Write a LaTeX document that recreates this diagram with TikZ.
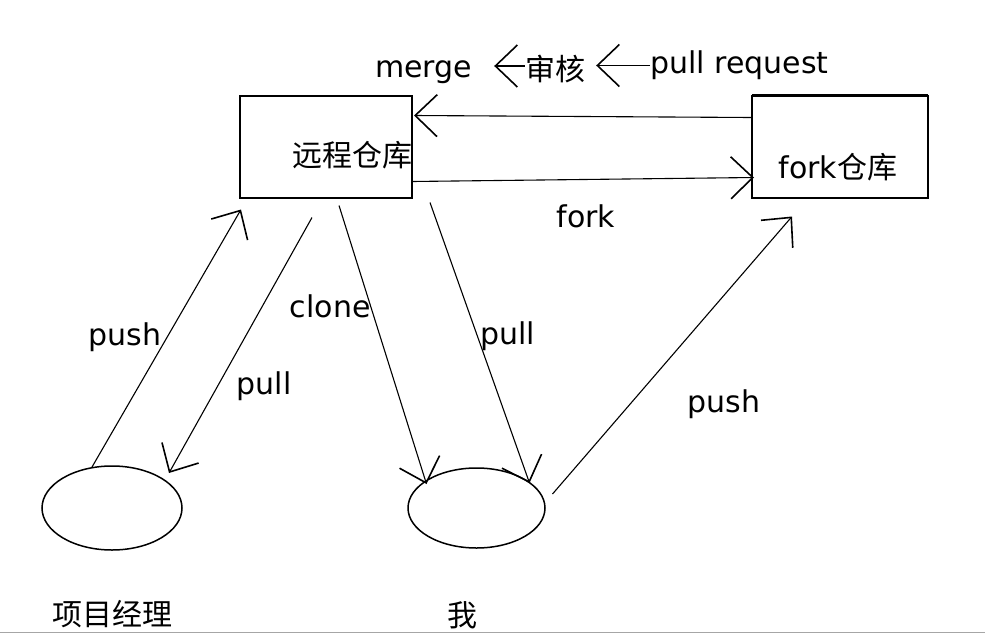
\documentclass[tikz,border=0pt]{standalone}
\usepackage{fontspec}
\setmainfont{DejaVu Sans}
\newfontfamily\cjk{Noto Sans CJK SC}
\usetikzlibrary{positioning, arrows.meta, shapes.geometric}

\begin{document}
\begin{tikzpicture}[x=1pt, y=-1pt,
	font=\fontsize{30}{36}\selectfont,
	repo/.style={draw, line width=2pt, outer sep=0pt, minimum height=102pt},
	person/.style={draw, ellipse, line width=1.5pt, outer sep=0pt},
	tip/.style={line width=1.1pt, -{Straight Barb[length=22pt, width=42pt, line width=1.6pt]}},
	txt/.style={inner sep=0pt}]
	\useasboundingbox (0,0) rectangle (985,635);

	\node[repo, minimum width=172pt, label={[txt, xshift=26.5pt, yshift=-8.5pt]center:{\cjk 远程仓库}}] (remote) at (326,146.5) {};
	\node[repo, minimum width=176pt, right=340pt of remote, label={[txt, xshift=-2pt, yshift=-20.5pt]center:fork{\cjk 仓库}}] (forked) {};
	\draw[line width=3pt] ([yshift=0.5pt]forked.north west) -- ([yshift=0.5pt]forked.north east);

	\node[person, minimum width=140pt, minimum height=84pt] (pm) at (112,508) {};
	\node[person, minimum width=137pt, minimum height=80pt, right=226pt of pm] (me) {};
	\node[txt, below=50pt of pm] (pmname) {\cjk 项目经理};
	\node[txt, below=53pt of me, xshift=-14pt] (mename) {\cjk 我};

	\node[txt] (merge) at (423.5,72) {merge};
	\node[txt] (audit) at (555,69) {\cjk 审核};
	\node[txt] (pullreq) at (739.5,65.5) {pull request};
	\draw[tip, shorten >=22pt] ([yshift=3pt]audit.west) -- ([yshift=3pt]audit.west -| merge.east);
	\draw[tip, shorten >=11pt] (pullreq.west) -- (pullreq.west -| audit.east);

	\path[tip]
		([yshift=-22pt]forked.north west) edge ([xshift=2pt, yshift=-20pt]remote.north east)
		([yshift=16pt]remote.south east) edge node[txt, xshift=3pt, yshift=-36.5pt] {fork} ([xshift=2pt, yshift=20pt]forked.south west)

		(pm.117) edge node[txt, xshift=-41pt, yshift=1pt] {push} ([xshift=1pt, yshift=-12pt]remote.south west)
		([xshift=72pt, yshift=-20pt]remote.south west) edge node[txt, xshift=23.5pt, yshift=-40.5pt] {pull} ([xshift=57pt, yshift=35pt]pm.center)
		([xshift=99pt, yshift=-8pt]remote.south west) edge node[txt, xshift=-52.5pt, yshift=38.5pt] {clone} ([xshift=-50pt, yshift=24pt]me.center)
		([xshift=18pt, yshift=-5pt]remote.south east) edge node[txt, xshift=28pt, yshift=6.5pt] {pull} ([xshift=53pt, yshift=25pt]me.center)
		([xshift=76pt, yshift=14pt]me.center) edge node[txt, xshift=52pt, yshift=-48.5pt] {push} ([xshift=40pt, yshift=-19pt]forked.south west)
		;

	\draw[gray!70, line width=1.5pt] (0,632.5) -- (985,632.5);
\end{tikzpicture}
\end{document}
